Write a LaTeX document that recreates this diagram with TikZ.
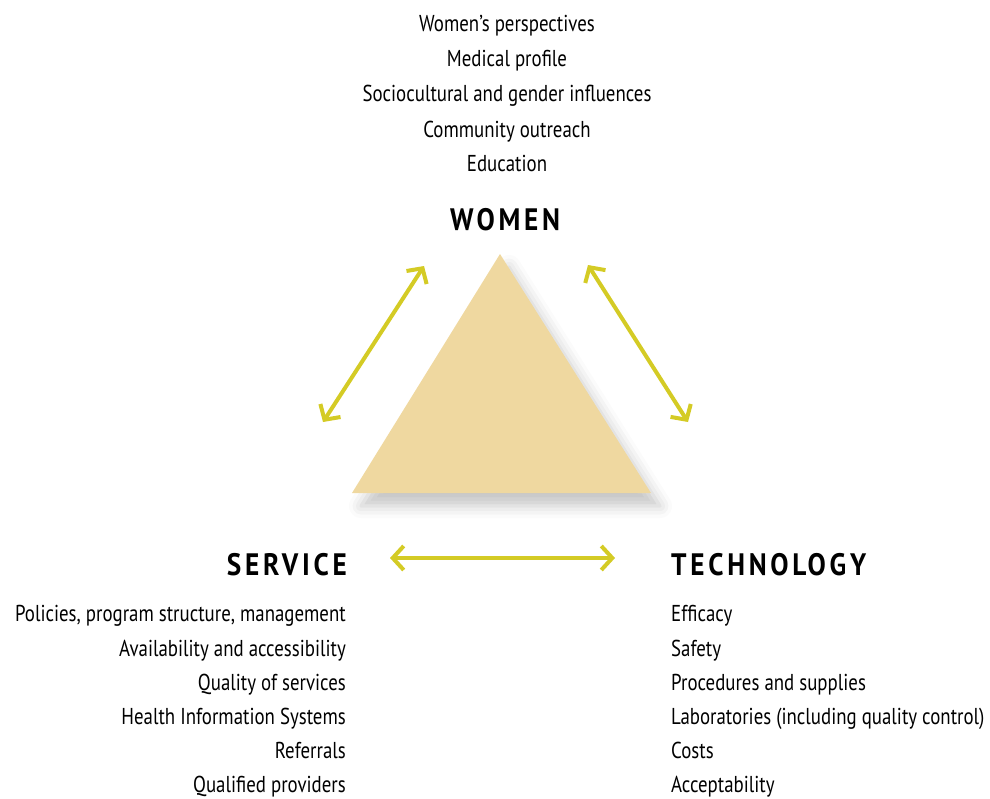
\documentclass[tikz,border=0pt]{standalone}
\usepackage{fontspec}
\setmainfont{PT Sans}[FakeStretch=0.82]
\newfontfamily\headfont{PT Sans}[FakeStretch=0.88,LetterSpace=12]
\usetikzlibrary{arrows.meta,shadows.blur}
\definecolor{tri}{HTML}{EFD8A0}
\definecolor{arr}{HTML}{D4CB25}
\begin{document}
\begin{tikzpicture}[x=1pt,y=-1pt,
  item/.style={inner sep=0pt,font=\fontsize{23}{23}\selectfont},
  head/.style={inner sep=0pt,font=\fontsize{31}{31}\selectfont\headfont\bfseries},
  link/.style={draw=arr,line width=4pt,{Straight Barb[length=11pt,width=24pt,line width=4pt]}-{Straight Barb[length=11pt,width=24pt,line width=4pt]}}]
\useasboundingbox (0,0) rectangle (990,798);
% triangle
\fill[tri, blur shadow={shadow xshift=9pt,shadow yshift=-13pt,shadow blur radius=12pt,shadow opacity=22}]
  (500,254) -- (651,493) -- (352,493) -- cycle;
% women list
\foreach \t/\y [count=\i] in {Women’s perspectives/31,Medical profile/66,Sociocultural and gender influences/101,Community outreach/137,Education/171}
  \node[item,anchor=base] (w\i) at (507,\y) {\t};
\node[head,anchor=base] (women) at (505,230) {WOMEN};
\node[head,anchor=base east] (service) at (347,575) {SERVICE};
\node[head,anchor=base west] (tech) at (671,575) {TECHNOLOGY};
\foreach \t/\y [count=\i] in {{Policies, program structure, management}/621,Availability and accessibility/656,Quality of services/690,Health Information Systems/724,Referrals/758,Qualified providers/792}
  \node[item,anchor=base east] (s\i) at (346,\y) {\t};
\foreach \t/\y [count=\i] in {Efficacy/621,Safety/656,Procedures and supplies/690,Laboratories (including quality control)/724,Costs/758,Acceptability/792}
  \node[item,anchor=base west] (t\i) at (671,\y) {\t};
% arrows
\coordinate (la) at (424,266); \coordinate (lb) at (323,422);
\coordinate (ra) at (588,265); \coordinate (rb) at (688,422);
\coordinate (ba) at (390,558); \coordinate (bb) at (615,558);
\draw[link] (la) -- (lb);
\draw[link] (ra) -- (rb);
\draw[link] (ba) -- (bb);
\end{tikzpicture}
\end{document}
